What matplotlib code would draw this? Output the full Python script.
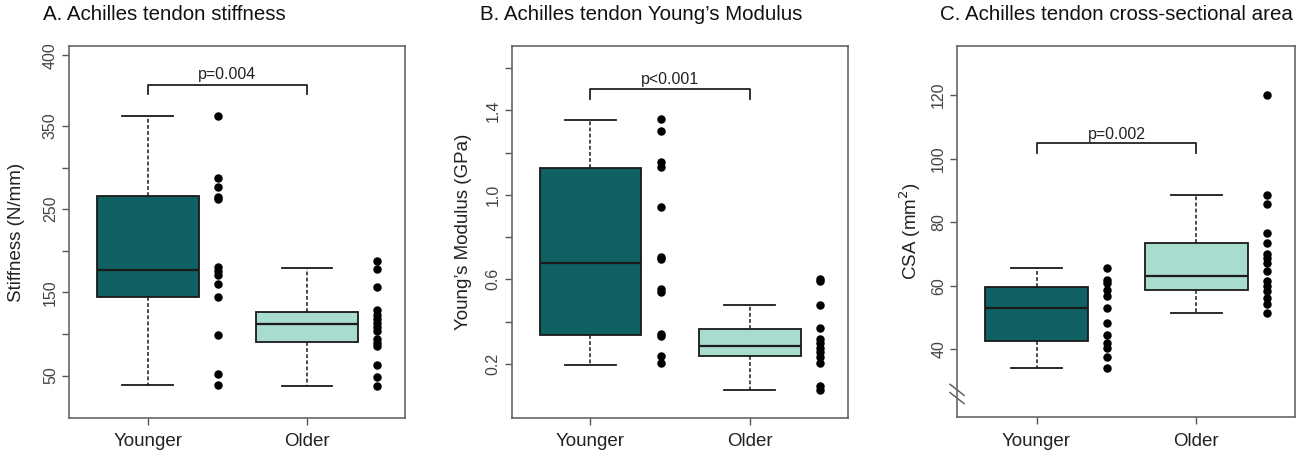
import matplotlib
matplotlib.use("Agg")
import matplotlib.pyplot as plt
import matplotlib.transforms as mtransforms

plt.rcParams['font.family'] = ['Liberation Sans', 'DejaVu Sans']

groups = ["Younger", "Older"]
dark_teal = "#0f6163"
light_teal = "#a8dccf"

# box statistics: (whislo, q1, med, q3, whishi)
stiff_box = [(39, 144, 177, 266, 362), (38, 90, 112, 127, 179)]
stiff_young = [362, 287, 277, 265, 262, 181, 176, 171, 160, 144, 99, 52, 39]
stiff_old = [188, 178, 157, 129, 123, 118, 113, 108, 103, 94, 89, 85, 63, 48, 38]

ym_box = [(0.195, 0.337, 0.678, 1.129, 1.353), (0.077, 0.235, 0.282, 0.364, 0.476)]
ym_young = [1.357, 1.304, 1.154, 1.133, 0.944, 0.707, 0.697, 0.554, 0.542, 0.342, 0.329, 0.235, 0.203]
ym_old = [0.601, 0.593, 0.479, 0.369, 0.317, 0.298, 0.274, 0.254, 0.232, 0.203, 0.093, 0.077]

csa_box = [(34.0, 42.7, 53.0, 59.7, 65.5), (51.5, 58.6, 63.0, 73.3, 88.6)]
csa_young = [65.5, 61.9, 60.8, 58.7, 56.9, 53.0, 48.3, 44.6, 41.9, 40.3, 37.7, 34.0]
csa_old = [120, 88.6, 85.7, 76.6, 73.5, 70.1, 68.8, 67.1, 64.5, 61.4, 60, 58.2, 56.1, 54.3, 51.5]

panels = [
    dict(title="A. Achilles tendon stiffness", ylabel="Stiffness (N/mm)",
         box=stiff_box, pts=[stiff_young, stiff_old], ylim=(-1, 446),
         ticks=[50, 100, 150, 200, 250, 300, 350, 435],
         ticklabels=["50", "", "150", "", "250", "", "350", "400"],
         p="p=0.004", bracket=(399, 388), ptext=412,
         pos=[0.053, 0.0773, 0.258, 0.8207], title_x=43, labelpad=13),
    dict(title="B. Achilles tendon Young\u2019s Modulus", ylabel="Young\u2019s Modulus (GPa)",
         box=ym_box, pts=[ym_young, ym_old], ylim=(-0.057, 1.704),
         ticks=[0.2, 0.4, 0.6, 0.8, 1.0, 1.2, 1.4, 1.6],
         ticklabels=["0.2", "", "0.6", "", "1.0", "", "1.4", ""],
         p="p<0.001", bracket=(1.501, 1.454), ptext=1.545,
         pos=[0.393, 0.0773, 0.258, 0.8207], title_x=480, labelpad=10),
    dict(title="C. Achilles tendon cross-sectional area", ylabel="CSA (mm$^2$)",
         box=csa_box, pts=[csa_young, csa_old], ylim=(18.6, 135.5),
         ticks=[40, 60, 80, 100, 120],
         ticklabels=["40", "60", "80", "100", "120"],
         p="p=0.002", bracket=(104.8, 101.9), ptext=107.6,
         pos=[0.7353, 0.0788, 0.2591, 0.8203], title_x=940, labelpad=6),
]

fig = plt.figure(figsize=(13.02, 4.53), dpi=100)

for pn in panels:
    ax = fig.add_axes(pn["pos"])
    stats = []
    for lo, q1, med, q3, hi in pn["box"]:
        stats.append(dict(whislo=lo, q1=q1, med=med, q3=q3, whishi=hi, fliers=[]))
    bp = ax.bxp(stats, positions=[1, 2], widths=0.64, capwidths=0.32,
                patch_artist=True, showfliers=False,
                boxprops=dict(edgecolor="#1a1a1a", linewidth=1.3),
                medianprops=dict(color="#1a1a1a", linewidth=1.6),
                whiskerprops=dict(color="#1a1a1a", linewidth=1.1, linestyle=(0, (2.5, 1.5))),
                capprops=dict(color="#1a1a1a", linewidth=1.3))
    for patch, col in zip(bp["boxes"], [dark_teal, light_teal]):
        patch.set_facecolor(col)

    # individual points beside each box
    for i, vals in enumerate(pn["pts"]):
        ax.scatter([i + 1.44] * len(vals), vals, s=37, color="black", zorder=3, linewidths=0)

    # significance bracket
    top, foot = pn["bracket"]
    ax.plot([1, 1, 2, 2], [foot, top, top, foot], color="#222222", lw=1.3)
    ax.text(1.5, pn["ptext"], pn["p"], ha="center", va="center", fontsize=11.5, color="#222222")

    ax.set_xlim(0.505, 2.615)
    ax.set_ylim(*pn["ylim"])
    ax.set_xticks([1, 2])
    ax.set_xticklabels(groups, fontsize=13.5, color="#222222")
    ax.set_yticks(pn["ticks"])
    ax.set_yticklabels(pn["ticklabels"], rotation=90, va="center", fontsize=11.5, color="#444444")
    ax.tick_params(axis="both", direction="out", length=5, width=1, color="#555555")
    ax.tick_params(axis="x", pad=6)
    ax.tick_params(axis="y", pad=3)
    ax.set_ylabel(pn["ylabel"], fontsize=13.5, color="#222222", labelpad=pn["labelpad"])
    for sp in ax.spines.values():
        sp.set_color("#666666")
        sp.set_linewidth(1.2)
    fig.text(pn["title_x"] / 1302, 1 - 20 / 453, pn["title"], ha="left", va="baseline",
             fontsize=14.75, color="#111111")

    if pn["title"].startswith("C."):
        # axis break marks
        trans = mtransforms.blended_transform_factory(ax.transAxes, ax.transData)
        for dy in (0, -2.6):
            ax.plot([-0.022, 0.02], [29.0 + dy, 25.5 + dy], color="#555555", lw=1,
                    transform=trans, clip_on=False)

fig.savefig("out.png", dpi=100)
